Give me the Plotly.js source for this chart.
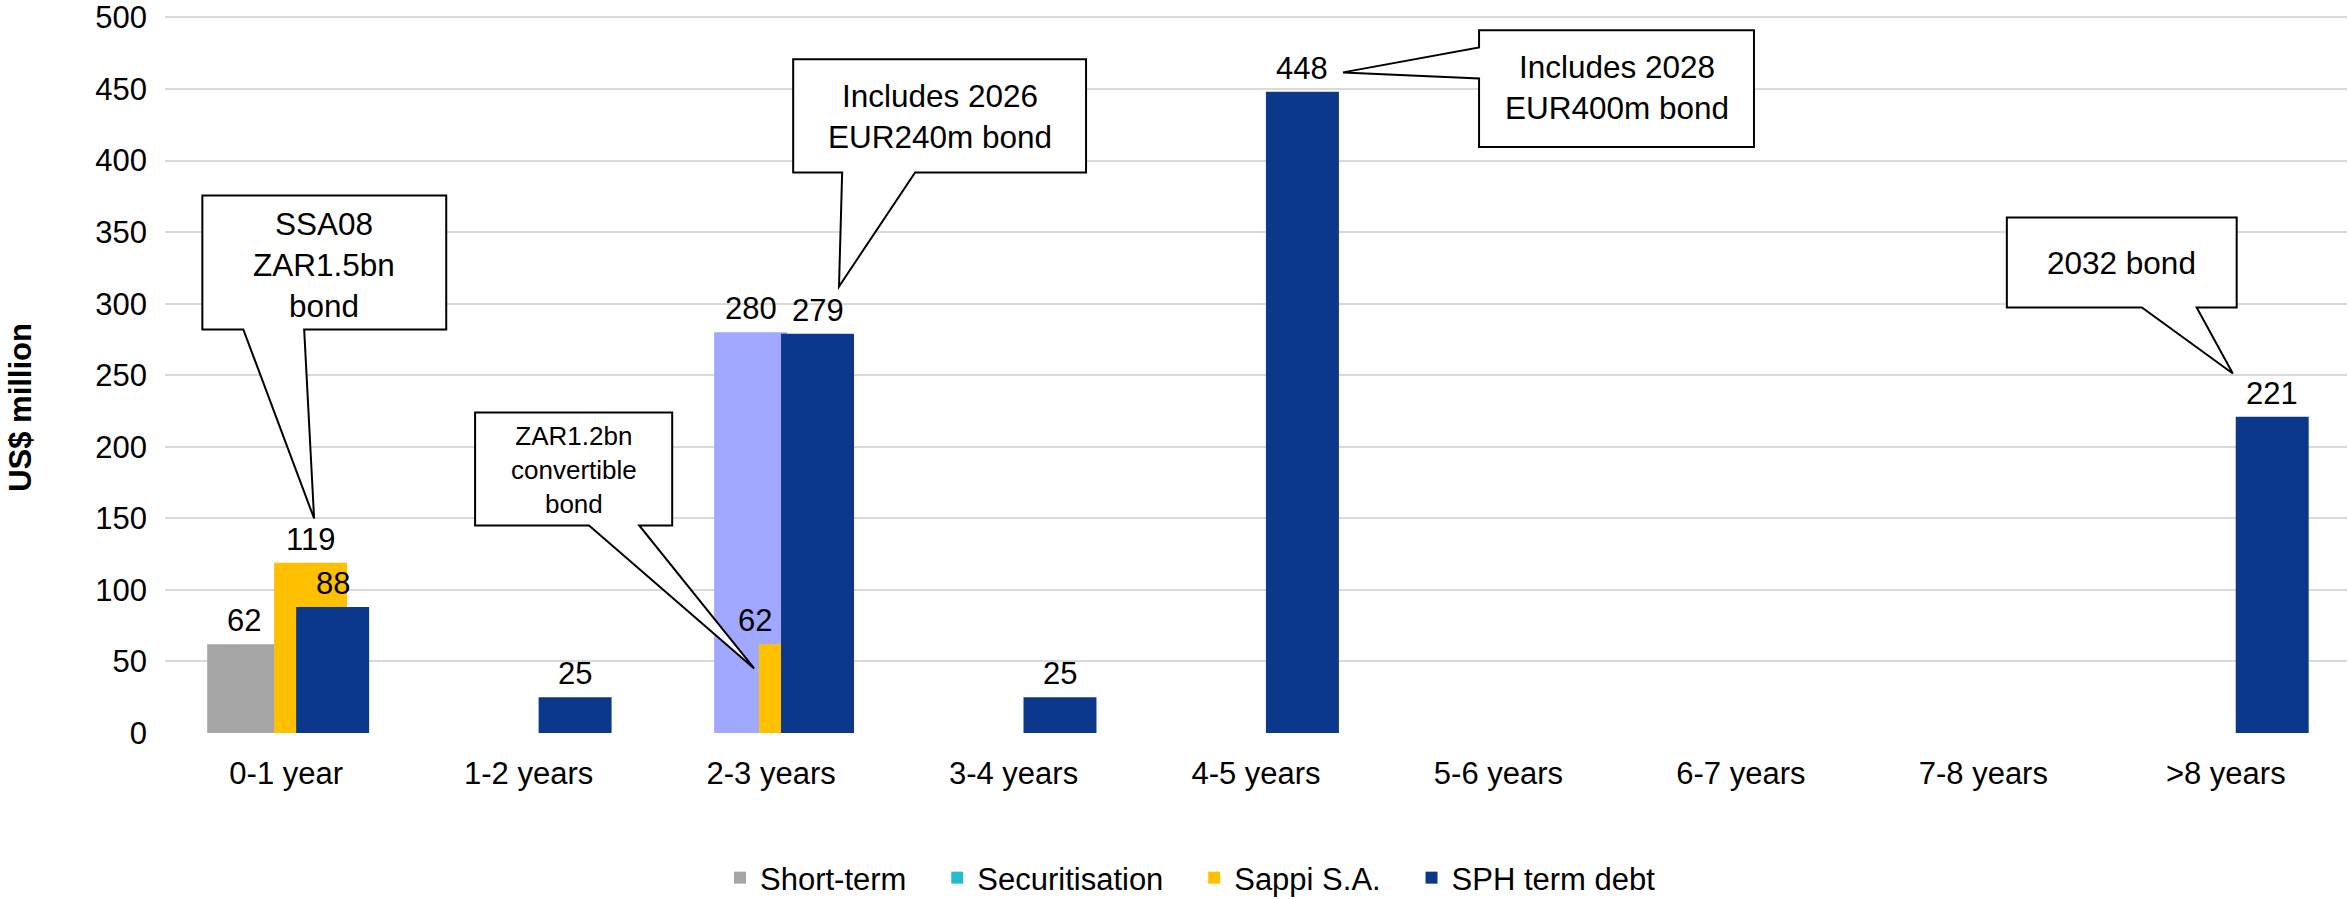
<!DOCTYPE html>
<html>
<head>
<meta charset="utf-8">
<script src="https://cdn.plot.ly/plotly-3.0.1.min.js"></script>
<style>
  html, body { margin: 0; padding: 0; background: #ffffff; }
  #chart { width: 2349px; height: 899px; }
</style>
</head>
<body>
<div id="chart"></div>
<script>
// Debt maturity profile, US$ million
const categories = ['0-1 year', '1-2 years', '2-3 years', '3-4 years', '4-5 years',
                    '5-6 years', '6-7 years', '7-8 years', '>8 years'];
const shortTerm      = [62,   null, null, null, null, null, null, null, null];
const otherDebt      = [null, null, 280,  null, null, null, null, null, null];
const securitisation = [null, null, null, null, null, null, null, null, null];
const sappiSA        = [119,  null, 62,   null, null, null, null, null, null];
const sphTermDebt    = [88,   25,   279,  25,   448,  null, null, null, 221];
const yTicks = [0, 50, 100, 150, 200, 250, 300, 350, 400, 450, 500];

const FONT = 'Liberation Sans, Arial, Helvetica, sans-serif';
const BAR_WIDTH = 0.301;
// extra room after a legend entry so the entries spread out along the row
const GAP = '\u00a0\u00a0\u00a0';

// series drawn back to front; each bar sits at its own offset inside the category
const series = [
  { name: 'Short-term',     values: shortTerm,      color: '#A6A6A6', offset: -0.326, legend: true,  pad: GAP },
  { name: 'Other',          values: otherDebt,      color: '#A0A8FF', offset: -0.235, legend: false, pad: '' },
  { name: 'Securitisation', values: securitisation, color: '#25BDCB', offset: -0.142, legend: true,  pad: GAP },
  { name: 'Sappi S.A.',     values: sappiSA,        color: '#FFC000', offset: -0.050, legend: true,  pad: GAP },
  { name: 'SPH term debt',  values: sphTermDebt,    color: '#0B388A', offset: 0.041,  legend: true,  pad: '' }
];

const traces = series.map(s => ({
  type: 'bar',
  name: s.name + s.pad,
  x: categories,
  y: s.values,
  offset: s.offset,
  width: BAR_WIDTH,
  marker: { color: s.color, line: { width: 0 } },
  showlegend: s.legend,
  hoverinfo: 'skip'
}));

// value labels, kept on top of every bar; the Sappi label in 2-3 years sits left of its bar
const labelNudge = { 'Sappi S.A.|2-3 years': -40 };
const valueLabels = [];
series.forEach(s => {
  s.values.forEach((v, i) => {
    if (v === null) return;
    valueLabels.push({
      xref: 'x', yref: 'y',
      x: i + s.offset + BAR_WIDTH / 2,
      y: v,
      text: String(v),
      showarrow: false,
      xanchor: 'center', yanchor: 'bottom',
      yshift: 4,
      xshift: labelNudge[s.name + '|' + categories[i]] || 0,
      font: { family: FONT, size: 31, color: '#000000' }
    });
  });
});

// Speech-bubble callouts (x in category index units, y in US$ million)
const callouts = [
  { text: 'SSA08<br>ZAR1.5bn<br>bond', size: 31.5, box: [-0.346, 0.660, 375.6, 282.0],
    tail: 'bottom', base: [-0.177, 0.074], tip: [0.115, 149.9], label: [0.157, 326.7] },
  { text: 'ZAR1.2bn<br>convertible<br>bond', size: 26, box: [0.779, 1.592, 224.0, 145.0],
    tail: 'bottom', base: [1.249, 1.456], tip: [1.930, 45.1], label: [1.186, 184.1] },
  { text: 'Includes 2026<br>EUR240m bond', size: 31.5, box: [2.091, 3.299, 470.7, 391.7],
    tail: 'bottom', base: [2.293, 2.594], tip: [2.280, 312.0], label: [2.695, 430.5] },
  { text: 'Includes 2028<br>EUR400m bond', size: 31.5, box: [4.920, 6.054, 491.1, 409.4],
    tail: 'left', base: [479.0, 457.4], tip: [4.359, 461.6], label: [5.487, 450.7] },
  { text: '2032 bond', size: 31.5, box: [7.097, 8.045, 360.2, 297.3],
    tail: 'bottom', base: [7.654, 7.880], tip: [8.029, 251.2], label: [7.571, 328.1] }
];

function calloutPath(c) {
  const [x0, x1, yt, yb] = c.box;
  const [tx, ty] = c.tip;
  if (c.tail === 'bottom') {
    const [b1, b2] = c.base;
    return `M${x0},${yt} L${x1},${yt} L${x1},${yb} L${b2},${yb} L${tx},${ty} L${b1},${yb} L${x0},${yb} Z`;
  }
  const [t1, t2] = c.base;
  return `M${x0},${yt} L${x1},${yt} L${x1},${yb} L${x0},${yb} L${x0},${t2} L${tx},${ty} L${x0},${t1} Z`;
}

const shapes = callouts.map(c => ({
  type: 'path',
  xref: 'x', yref: 'y',
  path: calloutPath(c),
  fillcolor: '#ffffff',
  line: { color: '#000000', width: 2 },
  layer: 'above'
}));

const calloutText = callouts.map(c => ({
  xref: 'x', yref: 'y',
  x: c.label[0], y: c.label[1],
  text: c.text,
  showarrow: false,
  xanchor: 'center', yanchor: 'middle',
  align: 'center',
  font: { family: FONT, size: c.size, color: '#000000' }
}));

const axisTitle = {
  xref: 'paper', yref: 'paper',
  x: 0, y: 0.4535,
  xshift: -144,
  text: '<b>US$ million</b>',
  textangle: -90,
  showarrow: false,
  xanchor: 'center', yanchor: 'middle',
  font: { family: FONT, size: 31, color: '#000000' }
};

const layout = {
  width: 2349,
  height: 899,
  margin: { l: 165, r: 2, t: 16, b: 166, pad: 0 },
  paper_bgcolor: '#ffffff',
  plot_bgcolor: '#ffffff',
  barmode: 'overlay',
  font: { family: FONT, size: 31, color: '#000000' },
  xaxis: {
    type: 'category',
    categoryorder: 'array',
    categoryarray: categories,
    showgrid: false,
    zeroline: false,
    showline: false,
    ticks: '',
    ticklabelstandoff: 19,
    tickfont: { family: FONT, size: 31, color: '#000000' },
    fixedrange: true
  },
  yaxis: {
    range: [0, 501],
    tickvals: yTicks,
    ticktext: yTicks.map(String),
    showgrid: true,
    gridcolor: '#D9D9D9',
    gridwidth: 2,
    zeroline: false,
    showline: false,
    ticks: '',
    ticklabelstandoff: 17,
    tickfont: { family: FONT, size: 31, color: '#000000' },
    fixedrange: true
  },
  legend: {
    orientation: 'h',
    xref: 'paper', yref: 'container',
    x: (720 - 165) / 2182, xanchor: 'left',
    y: 1 - 878 / 899, yanchor: 'middle',
    font: { family: FONT, size: 31, color: '#000000' },
    bgcolor: 'rgba(0,0,0,0)',
    traceorder: 'normal'
  },
  shapes: shapes,
  annotations: valueLabels.concat(calloutText, [axisTitle]),
  showlegend: true
};

Plotly.newPlot('chart', traces, layout, { staticPlot: true, displayModeBar: false });
</script>
</body>
</html>
